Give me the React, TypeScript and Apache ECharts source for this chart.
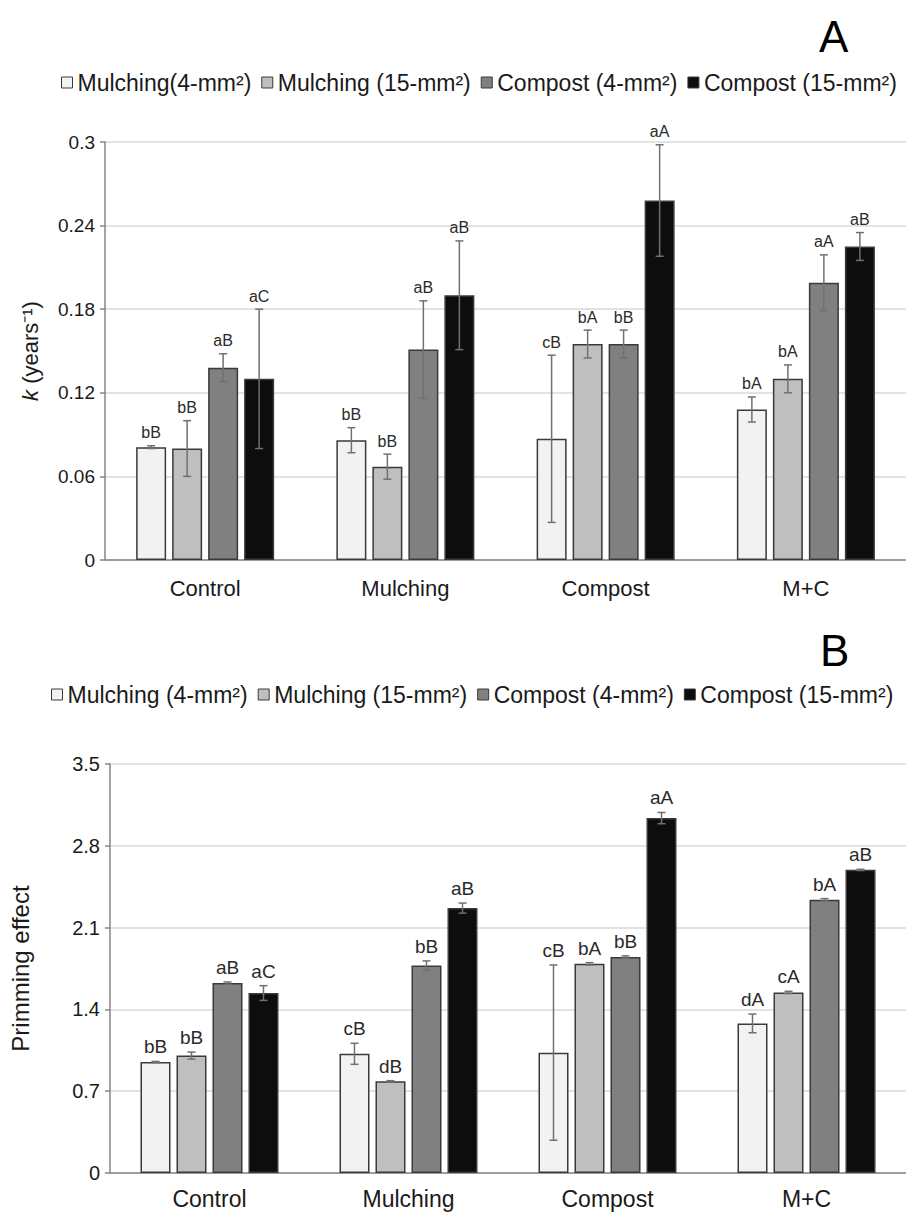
import React, { useEffect, useRef } from "react";
import * as echarts from "echarts";

const categories = ["Control", "Mulching", "Compost", "M+C"];

const seriesNamesA = ["Mulching(4-mm²)", "Mulching (15-mm²)", "Compost (4-mm²)", "Compost (15-mm²)"];
const seriesNamesB = ["Mulching (4-mm²)", "Mulching (15-mm²)", "Compost (4-mm²)", "Compost (15-mm²)"];

// Panel A: k (years-1)
const kMulch4 = [0.081, 0.086, 0.087, 0.108];
const kMulch15 = [0.080, 0.067, 0.155, 0.130];
const kComp4 = [0.138, 0.151, 0.155, 0.199];
const kComp15 = [0.130, 0.190, 0.258, 0.225];
const kErrMulch4 = [0.001, 0.009, 0.060, 0.009];
const kErrMulch15 = [0.020, 0.009, 0.010, 0.010];
const kErrComp4 = [0.010, 0.035, 0.010, 0.020];
const kErrComp15 = [0.050, 0.039, 0.040, 0.010];
const kLblMulch4 = ["bB", "bB", "cB", "bA"];
const kLblMulch15 = ["bB", "bB", "bA", "bA"];
const kLblComp4 = ["aB", "aB", "bB", "aA"];
const kLblComp15 = ["aC", "aB", "aA", "aB"];
const kTicks = ["0", "0.06", "0.12", "0.18", "0.24", "0.3"];

// Panel B: Priming effect
const peMulch4 = [0.95, 1.02, 1.03, 1.28];
const peMulch15 = [1.005, 0.785, 1.79, 1.545];
const peComp4 = [1.625, 1.775, 1.848, 2.338];
const peComp15 = [1.54, 2.267, 3.037, 2.594];
const peErrMulch4 = [0.005, 0.09, 0.75, 0.08];
const peErrMulch15 = [0.03, 0.005, 0.01, 0.01];
const peErrComp4 = [0.01, 0.04, 0.01, 0.01];
const peErrComp15 = [0.063, 0.043, 0.048, 0.005];
const peLblMulch4 = ["bB", "cB", "cB", "dA"];
const peLblMulch15 = ["bB", "dB", "bA", "cA"];
const peLblComp4 = ["aB", "bB", "bB", "bA"];
const peLblComp15 = ["aC", "aB", "aA", "aB"];
const peTicks = ["0", "0.7", "1.4", "2.1", "2.8", "3.5"];

const COLORS = ["#f2f2f2", "#bfbfbf", "#808080", "#0d0d0d"];
const FONT = "'Liberation Sans', Arial, sans-serif";
const BAR_W = 30;
const BAR_GAP = 6;

export default function App() {
  const ref = useRef<HTMLDivElement>(null);

  useEffect(() => {
    if (!ref.current) return;
    const chart = echarts.init(ref.current, null, { renderer: "svg" });

    const panels = [
      {
        names: seriesNamesA,
        vals: [kMulch4, kMulch15, kComp4, kComp15],
        errs: [kErrMulch4, kErrMulch15, kErrComp4, kErrComp15],
        lbls: [kLblMulch4, kLblMulch15, kLblComp4, kLblComp15],
        lblSize: 16,
      },
      {
        names: seriesNamesB,
        vals: [peMulch4, peMulch15, peComp4, peComp15],
        errs: [peErrMulch4, peErrMulch15, peErrComp4, peErrComp15],
        lbls: [peLblMulch4, peLblMulch15, peLblComp4, peLblComp15],
        lblSize: 19,
      },
    ];

    const series: any[] = [];
    panels.forEach((p, pi) => {
      p.vals.forEach((vals, si) => {
        series.push({
          name: p.names[si],
          type: "bar",
          xAxisIndex: pi,
          yAxisIndex: pi,
          data: vals,
          barWidth: BAR_W,
          barGap: (BAR_GAP / BAR_W) * 100 + "%",
          itemStyle: { color: COLORS[si], borderColor: "#3a3a3a", borderWidth: 1.5 },
          z: 2,
        });
      });
      p.vals.forEach((vals, si) => {
        const offset = -((4 * BAR_W + 3 * BAR_GAP) / 2) + BAR_W / 2 + si * (BAR_W + BAR_GAP);
        const labels = p.lbls[si];
        series.push({
          type: "custom",
          xAxisIndex: pi,
          yAxisIndex: pi,
          z: 5,
          silent: true,
          data: vals.map((v, i) => [i, v, p.errs[si][i]]),
          encode: { x: 0, y: 1 },
          renderItem: (params: any, api: any) => {
            const ci = api.value(0);
            const v = api.value(1);
            const e = api.value(2);
            const c = api.coord([ci, v]);
            const x = c[0] + offset;
            const yHi = api.coord([ci, v + e])[1];
            const yLo = api.coord([ci, v - e])[1];
            const ls = { stroke: "#707070", lineWidth: 1.5 };
            return {
              type: "group",
              children: [
                { type: "line", shape: { x1: x, y1: yHi, x2: x, y2: yLo }, style: ls },
                { type: "line", shape: { x1: x - 4, y1: yHi, x2: x + 4, y2: yHi }, style: ls },
                { type: "line", shape: { x1: x - 4, y1: yLo, x2: x + 4, y2: yLo }, style: ls },
                {
                  type: "text",
                  x: x,
                  y: yHi - 5,
                  style: {
                    text: labels[params.dataIndex],
                    fill: "#2a2a2a",
                    fontSize: p.lblSize,
                    fontFamily: FONT,
                    align: "center",
                    verticalAlign: "bottom",
                  },
                },
              ],
            };
          },
        });
      });
    });

    const axisLineStyle = { color: "#868686", width: 1.5 };

    const option: any = {
      animation: false,
      backgroundColor: "#ffffff",
      textStyle: { fontFamily: FONT },
      legend: [
        {
          data: seriesNamesA,
          left: 56,
          top: 66,
          itemWidth: 11,
          itemHeight: 11,
          itemGap: 10,
          icon: "rect",
          itemStyle: { borderColor: "#3a3a3a", borderWidth: 1 },
          textStyle: { fontSize: 23, color: "#1a1a1a", fontFamily: FONT },
          selectedMode: false,
        },
        {
          data: seriesNamesB,
          left: 46,
          top: 678,
          itemWidth: 11,
          itemHeight: 11,
          itemGap: 10,
          icon: "rect",
          itemStyle: { borderColor: "#3a3a3a", borderWidth: 1 },
          textStyle: { fontSize: 23, color: "#1a1a1a", fontFamily: FONT },
          selectedMode: false,
        },
      ],
      grid: [
        { left: 105, top: 142, width: 808, height: 418 },
        { left: 104, top: 764, width: 807, height: 409 },
      ],
      xAxis: [
        {
          type: "category",
          gridIndex: 0,
          data: categories,
          axisLine: { lineStyle: axisLineStyle },
          axisTick: { show: false },
          axisLabel: { fontSize: 22, color: "#1a1a1a", margin: 17, fontFamily: FONT },
        },
        {
          type: "category",
          gridIndex: 1,
          data: categories,
          axisLine: { lineStyle: axisLineStyle },
          axisTick: { show: false },
          axisLabel: { fontSize: 23, color: "#1a1a1a", margin: 14, fontFamily: FONT },
        },
      ],
      yAxis: [
        {
          type: "value",
          gridIndex: 0,
          min: 0,
          max: 0.3,
          interval: 0.06,
          axisLine: { show: true, lineStyle: axisLineStyle },
          axisTick: { show: true, length: 5, lineStyle: axisLineStyle },
          splitLine: { lineStyle: { color: "#dadada", width: 1.5 } },
          axisLabel: {
            fontSize: 19,
            color: "#1a1a1a",
            margin: 10,
            fontFamily: FONT,
            formatter: (v: number) => kTicks[Math.round(v / 0.06)] ?? String(v),
          },
          name: "{i|k} (years⁻¹)",
          nameLocation: "middle",
          nameGap: 64,
          nameRotate: 90,
          nameTextStyle: {
            fontSize: 22,
            color: "#1a1a1a",
            fontFamily: FONT,
            rich: { i: { fontStyle: "italic", fontSize: 22, fontFamily: FONT, color: "#1a1a1a" } },
          },
        },
        {
          type: "value",
          gridIndex: 1,
          min: 0,
          max: 3.5,
          interval: 0.7,
          axisLine: { show: true, lineStyle: axisLineStyle },
          axisTick: { show: true, length: 5, lineStyle: axisLineStyle },
          splitLine: { lineStyle: { color: "#dadada", width: 1.5 } },
          axisLabel: {
            fontSize: 20,
            color: "#1a1a1a",
            margin: 10,
            fontFamily: FONT,
            formatter: (v: number) => peTicks[Math.round(v / 0.7)] ?? String(v),
          },
          name: "Primming effect",
          nameLocation: "middle",
          nameGap: 78,
          nameRotate: 90,
          nameTextStyle: { fontSize: 24, color: "#1a1a1a", fontFamily: FONT },
        },
      ],
      graphic: [
        {
          type: "text",
          left: 819,
          top: 14,
          style: { text: "A", fontSize: 44, fill: "#000", fontFamily: FONT },
        },
        {
          type: "text",
          left: 820,
          top: 628,
          style: { text: "B", fontSize: 44, fill: "#000", fontFamily: FONT },
        },
      ],
      series,
    };

    chart.setOption(option);
    return () => chart.dispose();
  }, []);

  return (
    <div
      ref={ref}
      style={{ position: "absolute", left: 0, top: 0, width: 906, height: 1214, background: "#fff" }}
    />
  );
}
